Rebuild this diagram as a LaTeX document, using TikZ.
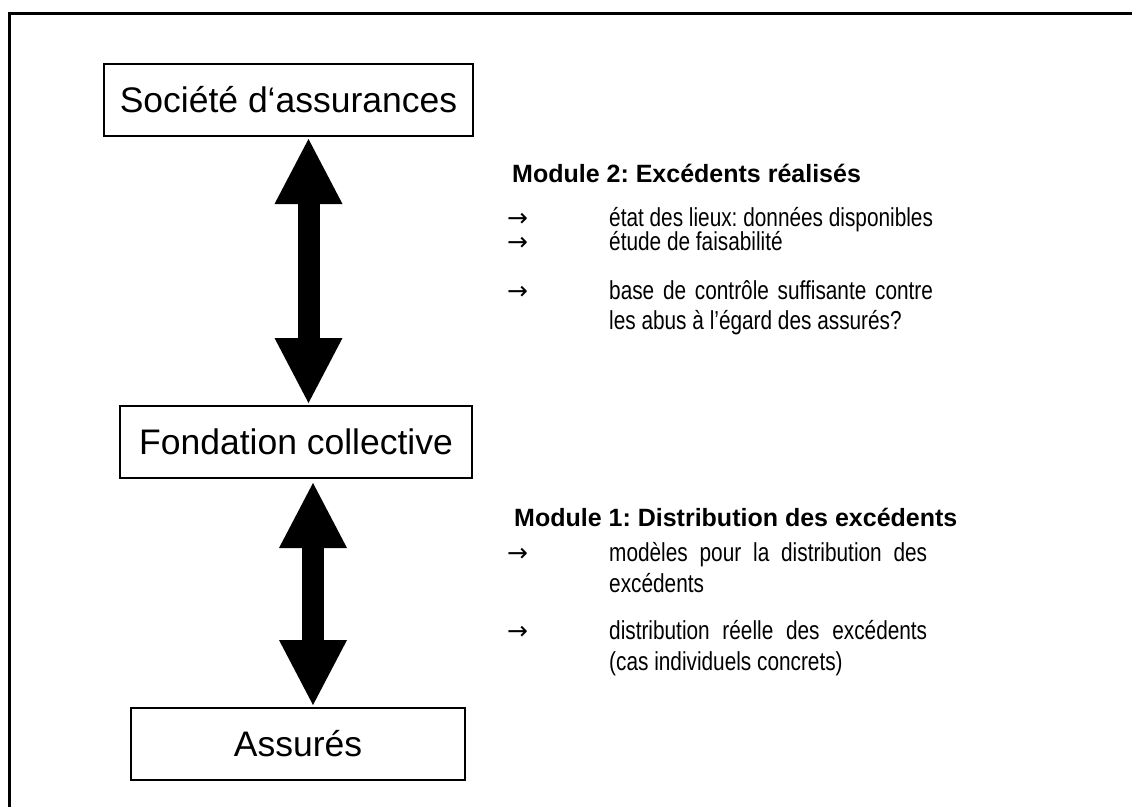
\documentclass[tikz,border=0pt]{standalone}
\usepackage{fontspec}
\setmainfont{Liberation Sans}
\newfontfamily\narrowfont{Liberation Sans}[FakeStretch=0.8]
\newfontfamily\arrowfont{DejaVu Sans}
\usetikzlibrary{arrows.meta}
\frenchspacing
\newsavebox{\lonebox}
\newcommand{\bodyfont}{\narrowfont\fontsize{26}{30}\selectfont}
\begin{document}
\sbox{\lonebox}{\bodyfont état des lieux: données disponibles}%
\begin{tikzpicture}[x=1pt,y=-1pt,
  box/.style={draw,line width=2pt,minimum height=72pt,inner sep=0pt,
    font=\fontsize{35.5}{40}\selectfont},
  bigarrow/.style={line width=22pt,
    {Triangle[width=68pt,length=65pt,line width=0pt]}-{Triangle[width=68pt,length=65pt,line width=0pt]}},
  hd/.style={anchor=base west,inner sep=0pt,font=\fontsize{25}{28}\selectfont\bfseries},
  body/.style={anchor=base west,inner sep=0pt,font=\bodyfont},
  bul/.style={anchor=base west,inner sep=0pt,font=\arrowfont\fontsize{25}{25}\selectfont}
]
\useasboundingbox (0,0) rectangle (1132,807);
\fill[white] (0,0) rectangle (1132,807);
\draw[line width=3pt] (1132,13) -- (9,13) -- (9,807);

\node[box,minimum width=369pt] (b1) at (288.5,100) {Société d‘assurances};
\node[box,minimum width=352pt] (b2) at (296,442) {Fondation collective};
\node[box,minimum width=334pt] (b3) at (298,744) {Assurés};

\coordinate (ax1) at (308.5,0);
\coordinate (ax2) at (313,0);
\draw[bigarrow,shorten <=2pt,shorten >=2pt] (b1.south -| ax1) -- (b2.north -| ax1);
\draw[bigarrow,shorten <=4pt,shorten >=2pt] (b2.south -| ax2) -- (b3.north -| ax2);

% Module 2
\node[hd] (h2) at (512,182) {Module 2: Excédents réalisés};
\node[bul] (a1) at (507,226) {→};
\node[body] (l1) at (609,226) {\usebox{\lonebox}};
\node[bul] (a2) at (507,250) {→};
\node[body] (l2) at (609,250) {étude de faisabilité};
\node[bul] (a3) at (507,299) {→};
\node[body] (l3) at (609,299) {\makebox[\wd\lonebox][s]{base de contrôle suffisante contre}};
\node[body] (l4) at (609,329) {les abus à l’égard des assurés?};

% Module 1
\node[hd] (h1) at (514,526) {Module 1: Distribution des excédents};
\node[bul] (a4) at (507,561) {→};
\node[body] (m1) at (609,561) {\makebox[318pt][s]{modèles pour la distribution des}};
\node[body] (m2) at (609,592) {excédents};
\node[bul] (a5) at (507,639) {→};
\node[body] (d1) at (609,639) {\makebox[318pt][s]{distribution réelle des excédents}};
\node[body] (d2) at (609,670) {(cas individuels concrets)};
\end{tikzpicture}
\end{document}
